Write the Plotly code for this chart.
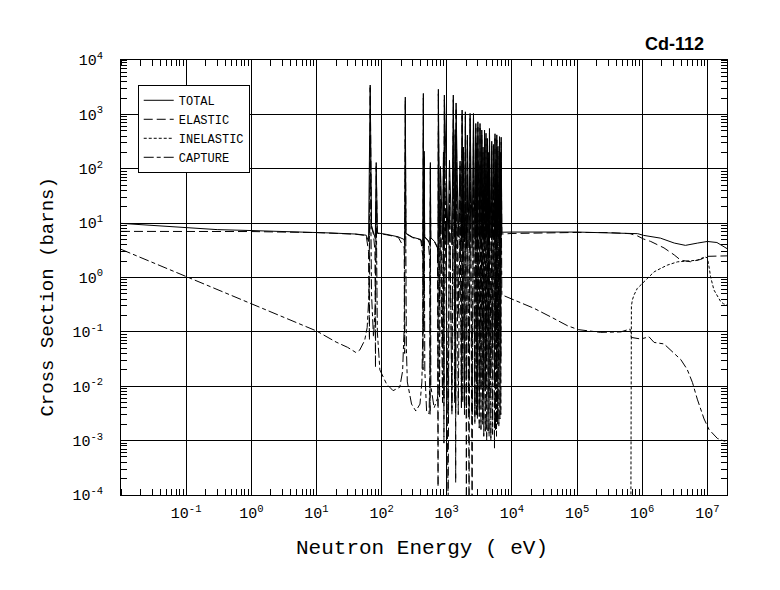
import numpy as np
import plotly.graph_objects as go

# ---- values (energy in eV, cross section in barns) ----

# smooth region below the first resonance
tot_lo_e = [0.01, 0.03, 0.1, 0.3, 1.0, 3.0, 10.0, 16.0, 40.0, 58.0, 63.0]
tot_lo_s = [9.9, 9.0, 8.2, 7.6, 7.3, 7.1, 6.8, 6.6, 6.3, 6.0, 4.6]
el_lo_e = [0.01, 0.1, 1.0, 10.0, 16.0, 40.0, 58.0, 63.0, 65.0]
el_lo_s = [7.05, 7.05, 7.0, 6.7, 6.5, 6.25, 5.9, 3.0, 0.07]
cap_lo_e = [0.01, 0.1, 1.0, 10.0, 20.0, 30.0, 40.0, 46.0, 55.0, 60.0, 64.0]
cap_lo_s = [3.3, 1.04, 0.33, 0.104, 0.065, 0.052, 0.042, 0.046, 0.07, 0.12, 0.5]

# isolated resonances, 66 eV - 720 eV
tot_mid_e = [66.8, 70, 75, 80, 82.6, 86, 120, 180, 222, 226, 231, 236, 300, 400,
             428, 437, 443, 450, 458, 520, 552, 560, 568, 650, 720]
tot_mid_s = [3460, 9.0, 6.4, 5.2, 130, 6.6, 6.2, 5.6, 5.0, 4.0, 2080, 6.5, 5.5, 5.0,
             3.8, 2430, 5.4, 210, 5.6, 4.8, 3.9, 130, 5.4, 4.6, 3.6]
el_mid_e = [66.8, 70, 75, 79, 80.5, 82.6, 86, 120, 180, 222, 226, 231, 236, 300, 400,
            428, 432, 437, 443, 447, 450, 458, 520, 550, 555, 560, 568, 650, 720]
el_mid_s = [3100, 8.5, 6.2, 3.0, 0.022, 110, 6.5, 6.1, 5.5, 3.5, 0.04, 1800, 6.4, 5.4, 4.9,
            2.5, 0.02, 2000, 5.0, 0.5, 180, 5.5, 4.7, 2.0, 0.003, 110, 5.3, 4.5, 3.5]
cap_mid_e = [66.8, 70, 75, 80, 82.6, 86, 94, 119, 150, 190, 210, 222, 231, 240, 248, 288,
             335, 388, 415, 430, 437, 443, 450, 460, 490, 535, 552, 560, 570, 640, 720]
cap_mid_s = [400, 0.5, 0.08, 0.3, 25, 0.1, 0.02, 0.011, 0.0083, 0.0096, 0.019, 0.12, 350,
             0.05, 0.012, 0.0047, 0.0035, 0.0047, 0.012, 0.12, 450, 0.1, 35, 0.02, 0.0035,
             0.0031, 0.02, 25, 0.01, 0.004, 0.006]

# dense resonance region, 0.7 - 7 keV: peaks and the minimum just below each peak
res_e = [743, 800, 890, 918, 1100, 1260, 1350, 1390, 1600, 1720, 1800, 1930, 2070, 2280,
         2570, 2790, 2900, 3000, 3240, 3450, 3600, 3800, 4000, 4220, 4400, 4520, 4900,
         5200, 5500, 5700, 5860, 6100, 6450, 6650, 6840]
res_tot = [2890, 110, 204, 2265, 143, 2265, 525, 1620, 138, 1200, 250, 1115, 415, 1040,
           1040, 680, 300, 730, 680, 515, 250, 515, 450, 360, 200, 550, 320, 280, 440,
           150, 420, 260, 390, 200, 380]
res_el = [2390, 90, 164, 1865, 113, 1865, 425, 1320, 113, 950, 200, 915, 335, 840, 840,
          560, 240, 580, 560, 415, 200, 415, 360, 290, 160, 450, 260, 230, 360, 120, 340,
          210, 320, 160, 310]
res_cap = [500, 20, 40, 400, 30, 400, 100, 300, 25, 250, 50, 200, 80, 200, 200, 120, 60,
           150, 120, 100, 50, 100, 90, 70, 40, 100, 60, 50, 80, 30, 80, 50, 70, 40, 70]
min_e = [735, 775, 860, 905, 1050, 1200, 1320, 1370, 1500, 1680, 1760, 1870, 2000, 2200,
         2450, 2700, 2850, 2950, 3150, 3350, 3550, 3700, 3900, 4100, 4300, 4460, 4750,
         5050, 5400, 5600, 5800, 6000, 6300, 6550, 6750]
min_tot = [2.5, 5.5, 5.0, 3.5, 4.0, 4.0, 5.5, 3.5, 5.5, 4.5, 5.5, 4.5, 3.5, 3.5, 3.5,
           5.0, 5.5, 4.5, 5.0, 5.0, 5.5, 5.0, 5.0, 5.5, 5.5, 5.0, 5.5, 5.5, 5.0, 6.0,
           5.5, 6.0, 5.5, 6.0, 6.0]
min_el = [1.4e-4, 0.3, 0.05, 9e-4, 5e-5, 0.003, 0.1, 1.7e-4, 0.2, 0.004, 0.05, 0.004,
          5e-5, 5e-5, 5e-5, 0.003, 0.05, 0.003, 0.004, 0.01, 0.1, 0.008, 0.01, 0.03, 0.1,
          0.006, 0.02, 0.05, 0.01, 0.1, 0.02, 0.05, 0.02, 0.1, 0.03]
min_cap = [0.008, 0.006, 0.005, 0.006, 0.003, 0.004, 0.005, 0.004, 0.003, 0.004, 0.005,
           0.003, 0.004, 0.003, 0.003, 0.002, 0.003, 0.0025, 0.0017, 0.0015, 0.002,
           0.0012, 0.0014, 0.001, 0.0015, 0.0012, 0.001, 0.0013, 0.0007, 0.0015, 0.0012,
           0.002, 0.0018, 0.0025, 0.003]

# smooth region above the resonances
tot_hi_e = [7000, 1e4, 1e5, 5.3e5, 8.5e5, 1.05e6, 1.9e6, 3.1e6, 4.6e6, 7.1e6, 1e7, 1.4e7, 2e7]
tot_hi_s = [6.8, 6.85, 6.85, 6.5, 6.4, 5.95, 5.3, 4.3, 3.9, 4.3, 4.6, 4.4, 3.4]
el_hi_e = [7000, 1e4, 4e4, 1e5, 3e5, 6.5e5, 8.5e5, 1.05e6, 1.35e6, 2.16e6, 3.1e6, 3.9e6,
           5.5e6, 7.9e6, 1e7, 1.4e7, 2e7]
el_hi_s = [6.3, 6.45, 6.65, 6.74, 6.7, 6.4, 5.8, 5.1, 4.6, 3.5, 2.6, 2.08, 1.95, 2.15,
           2.45, 2.45, 2.5]
cap_hi_e = [7000, 1e4, 2.2e4, 4e4, 7.1e4, 1.04e5, 2.3e5, 4.7e5, 6.5e5, 6.8e5, 9.5e5,
            1.27e6, 1.52e6, 2.16e6, 2.9e6, 3.9e6, 4.9e6, 5.9e6, 7e6, 8.9e6, 1.06e7,
            1.42e7, 1.7e7, 2e7]
cap_hi_s = [0.48, 0.40, 0.27, 0.187, 0.13, 0.11, 0.098, 0.10, 0.113, 0.079, 0.074, 0.081,
            0.064, 0.06, 0.044, 0.031, 0.0204, 0.0117, 0.0058, 0.0025, 0.0016, 0.0011,
            0.00101, 0.00095]
inel_e = [6.67e5, 6.67e5, 6.82e5, 7.07e5, 7.5e5, 8.4e5, 1.0e6, 1.2e6, 1.52e6, 1.92e6,
          2.43e6, 3.47e6, 4.93e6, 7.0e6, 9.1e6, 1.0e7, 1.06e7, 1.12e7, 1.26e7, 1.42e7,
          1.6e7, 1.76e7, 2e7]
inel_s = [1e-5, 0.25, 0.3, 0.39, 0.48, 0.63, 0.78, 0.96, 1.27, 1.47, 1.69, 1.94, 2.02,
          2.08, 2.39, 2.3, 1.57, 1.03, 0.59, 0.45, 0.36, 0.33, 0.31]

x_ticks = [0.1, 1, 10, 100, 1e3, 1e4, 1e5, 1e6, 1e7]
x_labels = ["10<sup>-1</sup>", "10<sup>0</sup>", "10<sup>1</sup>", "10<sup>2</sup>",
            "10<sup>3</sup>", "10<sup>4</sup>", "10<sup>5</sup>", "10<sup>6</sup>",
            "10<sup>7</sup>"]
y_ticks = [1e-4, 1e-3, 1e-2, 1e-1, 1, 10, 100, 1e3, 1e4]
y_labels = ["10<sup>-4</sup>", "10<sup>-3</sup>", "10<sup>-2</sup>", "10<sup>-1</sup>",
            "10<sup>0</sup>", "10<sup>1</sup>", "10<sup>2</sup>", "10<sup>3</sup>",
            "10<sup>4</sup>"]


def dense(mins_s, peaks_s):
    # minimum just below each resonance, then its peak
    e, s = [], []
    for i in range(len(res_e)):
        e += [min_e[i], res_e[i]]
        s += [mins_s[i], peaks_s[i]]
    return e, s


d_tot = dense(min_tot, res_tot)
d_el = dense(min_el, res_el)
d_cap = dense(min_cap, res_cap)

total_e = tot_lo_e + tot_mid_e + d_tot[0] + tot_hi_e
total_s = tot_lo_s + tot_mid_s + d_tot[1] + tot_hi_s
elastic_e = el_lo_e + el_mid_e + d_el[0] + el_hi_e
elastic_s = el_lo_s + el_mid_s + d_el[1] + el_hi_s
capture_e = cap_lo_e + cap_mid_e + d_cap[0] + cap_hi_e
capture_s = cap_lo_s + cap_mid_s + d_cap[1] + cap_hi_s

mono = "Liberation Mono"

fig = go.Figure()
fig.add_trace(go.Scatter(x=total_e, y=total_s, mode="lines", name="TOTAL",
                         line=dict(color="black", width=1)))
fig.add_trace(go.Scatter(x=elastic_e, y=elastic_s, mode="lines", name="ELASTIC",
                         line=dict(color="black", width=1, dash="9px,4px")))
fig.add_trace(go.Scatter(x=inel_e, y=inel_s, mode="lines", name="INELASTIC",
                         line=dict(color="black", width=1, dash="3px,2px")))
fig.add_trace(go.Scatter(x=capture_e, y=capture_s, mode="lines", name="CAPTURE",
                         line=dict(color="black", width=1, dash="10px,3px,4px,3px")))

axis_common = dict(
    type="log", showline=True, linecolor="black", linewidth=1, mirror="ticks",
    showgrid=True, gridcolor="black", gridwidth=1, zeroline=False,
    ticks="", tickmode="array", tickfont=dict(family=mono, size=15, color="black"),
    minor=dict(ticks="inside", ticklen=6, tickcolor="black", dtick="D1", showgrid=False),
)
fig.update_xaxes(range=[-2, np.log10(2e7)], tickvals=x_ticks, ticktext=x_labels,
                 ticklabelstandoff=4, **axis_common)
fig.update_yaxes(range=[-4, 4], tickvals=y_ticks, ticktext=y_labels,
                 ticklabelstandoff=14, **axis_common)

fig.add_annotation(text="Neutron Energy ( eV)", xref="paper", yref="paper",
                   x=0.496, y=-0.122, showarrow=False, xanchor="center", yanchor="middle",
                   font=dict(family=mono, size=21, color="black"))
fig.add_annotation(text="Cross Section (barns)", xref="paper", yref="paper",
                   x=-0.122, y=0.454, showarrow=False, textangle=-90,
                   xanchor="center", yanchor="middle",
                   font=dict(family=mono, size=19, color="black"))
fig.add_annotation(text="<b>Cd-112</b>", xref="paper", yref="paper",
                   x=0.914, y=1.037, showarrow=False, xanchor="center", yanchor="middle",
                   font=dict(family="Liberation Sans", size=18, color="black"))

# the page has an 8px body margin, so the figure is 8px smaller than the window
fig.update_layout(
    width=772, height=582,
    margin=dict(l=113, r=53, t=52, b=95),
    paper_bgcolor="white", plot_bgcolor="white",
    showlegend=True,
    legend=dict(x=0.0276, y=0.943, xanchor="left", yanchor="top",
                bgcolor="white", bordercolor="black", borderwidth=1,
                font=dict(family=mono, size=12, color="black"),
                entrywidth=132, entrywidthmode="pixels",
                tracegroupgap=0),
)

fig.write_html("out.html")
